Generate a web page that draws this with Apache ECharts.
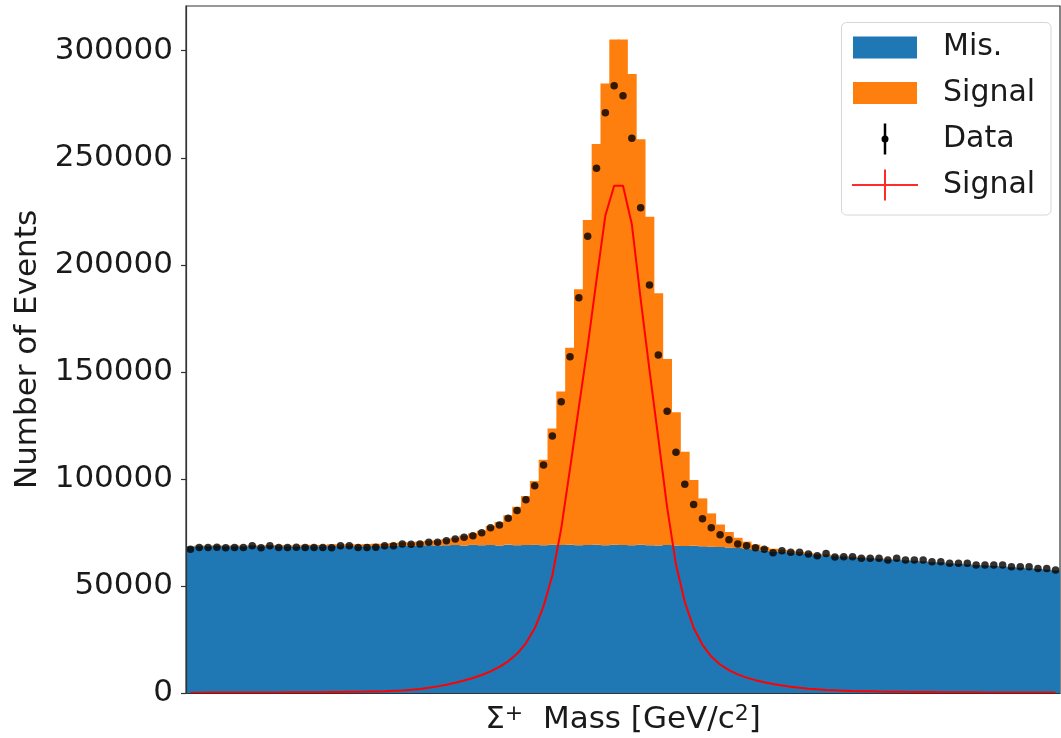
<!DOCTYPE html>
<html>
<head>
<meta charset="utf-8">
<title>Sigma+ mass distribution</title>
<script src="https://cdn.jsdelivr.net/npm/echarts@6/dist/echarts.min.js"></script>
<style>
  html, body { margin: 0; padding: 0; background: #fff; }
  #chart { width: 1061px; height: 738px; }
</style>
</head>
<body>
<div id="chart"></div>
<script>
// Histogram contents per mass bin (99 equal-width bins across the fit window)
const misBackground = [
  68400, 68600, 68500, 68700, 68500, 68600, 68400, 68800, 68500, 68700,
  68600, 68500, 68300, 68700, 68600, 68500, 68800, 68600, 68700, 68500,
  68600, 68700, 68500, 68800, 68900, 68700, 68900, 69000, 68800, 69000,
  69100, 68900, 69200, 69000, 69100, 68900, 69300, 69000, 69100, 69200,
  69000, 69300, 69100, 69200, 69000, 69100, 69200, 69000, 69300, 69100,
  69000, 69200, 69000, 68900, 69100, 68900, 68700, 68800, 68500, 68300,
  68200, 68000, 67700, 67400, 67000, 66500, 66100, 65900, 65600, 65300,
  64900, 64500, 64300, 63900, 63700, 63400, 63100, 62900, 62600, 62300,
  62200, 61900, 61700, 61400, 61100, 60900, 60500, 60300, 60000, 59700,
  59500, 59300, 59000, 58700, 58500, 58200, 57900, 57600, 57200
];

const signalMC = [
  230, 250, 260, 280, 300, 320, 340, 360, 390, 410,
  440, 470, 510, 540, 580, 630, 680, 740, 800, 870,
  950, 1040, 1150, 1280, 1430, 1610, 1830, 2100, 2450, 2900,
  3450, 4600, 5400, 6800, 8900, 10900, 13700, 18000, 22900, 29800,
  40000, 54200, 71700, 92100, 119600, 151800, 187200, 215700, 236000, 236200,
  220100, 189500, 153500, 117800, 86900, 62200, 44000, 30700, 22400, 15600,
  10500, 7200, 4800, 3300, 2300, 1700, 1300, 1000, 820, 700,
  600, 520, 460, 410, 370, 340, 310, 290, 270, 250,
  235, 220, 210, 200, 190, 180, 172, 165, 158, 152,
  146, 140, 135, 130, 126, 122, 118, 114, 110
];

const dataCounts = [
  67100, 68000, 68000, 68100, 67900, 68000, 68000, 68800, 67900, 68800,
  68000, 68000, 68100, 68000, 68000, 68000, 67900, 68800, 68800, 68000,
  68000, 68100, 68800, 68800, 69600, 69500, 69600, 70400, 70400, 71100,
  71900, 72700, 73500, 74900, 77200, 78500, 81600, 85200, 90300, 96800,
  106500, 120000, 136100, 157100, 184600, 213400, 245100, 271000, 283600, 279000,
  259100, 226700, 190600, 157900, 131600, 112400, 97500, 88000, 81400, 77200,
  73900, 71600, 69600, 68800, 67900, 67100, 65500, 66500, 65700, 65700,
  64900, 64100, 65200, 63500, 63700, 63700, 62900, 62900, 62900, 62100,
  62900, 62100, 62100, 62100, 61300, 61300, 60600, 60600, 60600, 59800,
  59800, 59800, 59800, 59000, 59000, 59000, 58200, 58200, 57400
];

const signalFit = [
  160, 170, 180, 190, 200, 210, 220, 235, 250, 265,
  280, 300, 320, 345, 370, 400, 440, 480, 530, 590,
  660, 750, 860, 1000, 1200, 1500, 1900, 2450, 3100, 3900,
  4800, 5800, 7000, 8400, 10100, 12200, 14800, 18300, 23200, 30200,
  40500, 55000, 76800, 104800, 133500, 162000, 193000, 223000, 236900, 236900,
  219000, 184000, 150800, 118900, 86700, 60000, 42500, 30500, 22500, 17000,
  13300, 10700, 8700, 7200, 6000, 5000, 4200, 3500, 2900, 2400,
  2000, 1700, 1450, 1250, 1100, 950, 860, 780, 700, 640,
  580, 530, 490, 450, 420, 390, 360, 340, 320, 300,
  280, 265, 250, 240, 230, 220, 210, 200, 190
];

const yTicks = [0, 50000, 100000, 150000, 200000, 250000, 300000];
const binLabels = misBackground.map((_, i) => 'bin' + i);

const FONT = 'DejaVu Sans';
const TEXT = '#1a1a1a';

const chart = echarts.init(document.getElementById('chart'), null, { renderer: 'canvas' });

// Legend drawn as a framed block in the upper right corner
const LX = 853, TX = 943;
const rows = [47.5, 93, 139, 185];
const legendGraphics = [
  { type: 'rect', shape: { x: 841.5, y: 22.5, width: 209.5, height: 192.5, r: 5 },
    style: { fill: 'rgba(255,255,255,0.85)', stroke: '#d6d6d6', lineWidth: 1 }, z: 100 },
  { type: 'rect', shape: { x: LX, y: rows[0] - 11, width: 64, height: 22 },
    style: { fill: '#1f77b4' }, z: 101 },
  { type: 'rect', shape: { x: LX, y: rows[1] - 11, width: 64, height: 22 },
    style: { fill: '#ff7f0e' }, z: 101 },
  { type: 'line', shape: { x1: 885, y1: rows[2] - 15.5, x2: 885, y2: rows[2] + 15.5 },
    style: { stroke: '#000', lineWidth: 2.5 }, z: 101 },
  { type: 'circle', shape: { cx: 885, cy: rows[2], r: 3.5 },
    style: { fill: '#000' }, z: 102 },
  { type: 'line', shape: { x1: 852, y1: rows[3], x2: 918, y2: rows[3] },
    style: { stroke: '#ff2a2a', lineWidth: 2 }, z: 101 },
  { type: 'line', shape: { x1: 885, y1: rows[3] - 15.5, x2: 885, y2: rows[3] + 15.5 },
    style: { stroke: '#ff2a2a', lineWidth: 2 }, z: 101 }
];
['Mis.', 'Signal', 'Data', 'Signal'].forEach((t, i) => {
  legendGraphics.push({
    type: 'text', x: TX, y: rows[i], z: 102,
    style: { text: t, font: '30px "' + FONT + '"', fill: TEXT, verticalAlign: 'middle', align: 'left' }
  });
});

chart.setOption({
  animation: false,
  backgroundColor: '#fff',
  grid: {
    left: 186, right: 1, top: 6, bottom: 45,
    outerBoundsMode: 'none',
    containLabel: false,
    show: true, borderColor: '#333', borderWidth: 1.2, backgroundColor: 'transparent'
  },
  xAxis: {
    type: 'category',
    data: binLabels,
    boundaryGap: true,
    z: 10,
    axisLine: { show: true, lineStyle: { color: '#333', width: 1.2 } },
    axisTick: { show: false },
    axisLabel: { show: false },
    splitLine: { show: false },
    name: 'Σ{sup|+}  Mass [GeV/c{sup|2}]',
    nameLocation: 'middle',
    nameGap: 10,
    nameTextStyle: {
      fontFamily: FONT, fontSize: 31, color: TEXT, verticalAlign: 'top', lineHeight: 34,
      rich: { sup: { fontFamily: FONT, fontSize: 22, color: TEXT, verticalAlign: 'top', lineHeight: 22 } }
    }
  },
  yAxis: {
    type: 'value',
    min: 0,
    max: 320900,
    interval: 50000,
    z: 10,
    axisLine: { show: true, lineStyle: { color: '#333', width: 1.2 } },
    axisTick: { show: true, length: 5, customValues: yTicks, lineStyle: { color: '#333', width: 1.2 } },
    axisLabel: {
      customValues: yTicks,
      margin: 13, fontFamily: FONT, fontSize: 31, color: TEXT,
      formatter: v => String(v)
    },
    splitLine: { show: false },
    name: 'Number of Events',
    nameLocation: 'middle',
    nameGap: 139,
    nameTextStyle: { fontFamily: FONT, fontSize: 31, color: TEXT }
  },
  series: [
    {
      name: 'Mis.', type: 'bar', stack: 'mc', data: misBackground,
      barWidth: '110%',
      itemStyle: { color: '#1f77b4' }, z: 2, silent: true
    },
    {
      name: 'Signal', type: 'bar', stack: 'mc', data: signalMC,
      barWidth: '110%',
      itemStyle: { color: '#ff7f0e' }, z: 2, silent: true
    },
    {
      name: 'Signal fit', type: 'line', data: signalFit,
      showSymbol: false, symbol: 'none',
      lineStyle: { color: '#ff0000', width: 2 }, z: 4, silent: true
    },
    {
      name: 'Data', type: 'scatter', data: dataCounts,
      symbolSize: 7.5, itemStyle: { color: '#000' }, z: 5, silent: true
    }
  ],
  graphic: legendGraphics
});
</script>
</body>
</html>
